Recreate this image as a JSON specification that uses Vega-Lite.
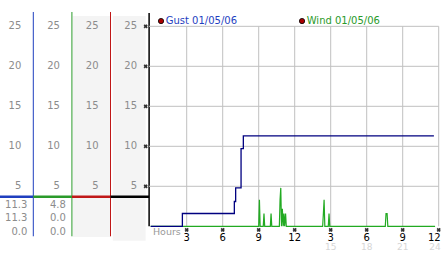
{
  "$schema": "https://vega.github.io/schema/vega-lite/v6.json",
  "width": 442,
  "height": 253,
  "autosize": {"type": "none"},
  "padding": 0,
  "background": "white",
  "config": {"view": {"stroke": null}, "text": {"font": "DejaVu Sans", "fontSize": 10}},
  "datasets": {
    "gust": [
      {"hour": 0, "speed": 0}, {"hour": 2.64, "speed": 1.6}, {"hour": 6.97, "speed": 3.1},
      {"hour": 7.08, "speed": 4.8}, {"hour": 7.53, "speed": 9.7}, {"hour": 7.72, "speed": 11.3},
      {"hour": 23.6, "speed": 11.3}
    ],
    "wind": [
      {"hour": 0, "speed": 0}, {"hour": 9.0, "speed": 0}, {"hour": 9.06, "speed": 3.3}, {"hour": 9.12, "speed": 0},
      {"hour": 9.38, "speed": 0}, {"hour": 9.44, "speed": 1.6}, {"hour": 9.5, "speed": 0},
      {"hour": 9.97, "speed": 0}, {"hour": 10.03, "speed": 1.6}, {"hour": 10.09, "speed": 0},
      {"hour": 10.72, "speed": 0}, {"hour": 10.78, "speed": 3.3}, {"hour": 10.84, "speed": 4.8}, {"hour": 10.9, "speed": 0},
      {"hour": 10.97, "speed": 2.2}, {"hour": 11.04, "speed": 0}, {"hour": 11.1, "speed": 1.6}, {"hour": 11.16, "speed": 0},
      {"hour": 11.24, "speed": 1.6}, {"hour": 11.3, "speed": 0},
      {"hour": 14.33, "speed": 0}, {"hour": 14.39, "speed": 1.6}, {"hour": 14.45, "speed": 3.3}, {"hour": 14.51, "speed": 0},
      {"hour": 14.8, "speed": 0}, {"hour": 14.86, "speed": 1.6}, {"hour": 14.92, "speed": 0},
      {"hour": 19.55, "speed": 0}, {"hour": 19.61, "speed": 1.6}, {"hour": 19.7, "speed": 1.6}, {"hour": 19.76, "speed": 0},
      {"hour": 23.7, "speed": 0}
    ],
    "axes": [
      {"axis": 1, "prev": 0, "series": "Gust"},
      {"axis": 2, "prev": 1, "series": "Wind"},
      {"axis": 3, "prev": 2, "series": "Series 3"},
      {"axis": 4, "prev": 3, "series": "Series 4"}
    ],
    "axisLabels": [
      {"axis": 1, "value": 5}, {"axis": 1, "value": 10}, {"axis": 1, "value": 15}, {"axis": 1, "value": 20}, {"axis": 1, "value": 25},
      {"axis": 2, "value": 5}, {"axis": 2, "value": 10}, {"axis": 2, "value": 15}, {"axis": 2, "value": 20}, {"axis": 2, "value": 25},
      {"axis": 3, "value": 5}, {"axis": 3, "value": 10}, {"axis": 3, "value": 15}, {"axis": 3, "value": 20}, {"axis": 3, "value": 25},
      {"axis": 4, "value": 5}, {"axis": 4, "value": 10}, {"axis": 4, "value": 15}, {"axis": 4, "value": 20}, {"axis": 4, "value": 25}
    ],
    "stats": [
      {"series": "Gust", "axis": 1, "stat": "max", "value": 11.3},
      {"series": "Gust", "axis": 1, "stat": "current", "value": 11.3},
      {"series": "Gust", "axis": 1, "stat": "min", "value": 0},
      {"series": "Wind", "axis": 2, "stat": "max", "value": 4.8},
      {"series": "Wind", "axis": 2, "stat": "current", "value": 0},
      {"series": "Wind", "axis": 2, "stat": "min", "value": 0}
    ],
    "yTicks": [{"value": 5}, {"value": 10}, {"value": 15}, {"value": 20}, {"value": 25}],
    "xTicks": [
      {"hour": 3, "clock": "3"}, {"hour": 6, "clock": "6"}, {"hour": 9, "clock": "9"}, {"hour": 12, "clock": "12"},
      {"hour": 15, "clock": "3"}, {"hour": 18, "clock": "6"}, {"hour": 21, "clock": "9"}, {"hour": 24, "clock": "12"}
    ],
    "legend": [
      {"series": "Gust", "label": "Gust 01/05/06"},
      {"series": "Wind", "label": "Wind 01/05/06"}
    ]
  },
  "resolve": {"scale": {"x": "independent"}},
  "layer": [
    {
      "layer": [
        {
          "data": {"values": [{}]},
          "mark": {"type": "rect", "color": "#f4f4f4"},
          "encoding": {
            "x": {"datum": 2.02, "type": "quantitative", "scale": {"domain": [0.137, 11.588], "nice": false, "zero": false}, "axis": null},
            "x2": {"datum": 3.0},
            "y": {"datum": 26.29, "type": "quantitative", "scale": {"domain": [-3.34, 28.29], "nice": false, "zero": false}, "axis": null},
            "y2": {"datum": -1.34}
          }
        },
        {
          "data": {"values": [{}]},
          "mark": {"type": "rect", "color": "#f4f4f4"},
          "encoding": {
            "x": {"datum": 3.06, "type": "quantitative", "scale": {"domain": [0.137, 11.588], "nice": false, "zero": false}, "axis": null},
            "x2": {"datum": 3.91},
            "y": {"datum": 26.29, "type": "quantitative", "scale": {"domain": [-3.34, 28.29], "nice": false, "zero": false}, "axis": null},
            "y2": {"datum": -1.8}
          }
        },
        {
          "data": {"name": "axes"},
          "transform": [{"filter": "datum.axis < 4"}],
          "mark": {"type": "rule", "strokeWidth": 1},
          "encoding": {
            "x": {"field": "axis", "type": "quantitative", "scale": {"domain": [0.137, 11.588], "nice": false, "zero": false}, "axis": null},
            "y": {"datum": 26.79, "type": "quantitative", "scale": {"domain": [-3.34, 28.29], "nice": false, "zero": false}, "axis": null},
            "y2": {"datum": -1.25},
            "color": {"field": "series", "type": "nominal", "legend": null,
              "scale": {"domain": ["Gust", "Wind", "Series 3", "Series 4"], "range": ["#1f3fbf", "#2a9a2a", "#c01818", "#000000"]}}
          }
        },
        {
          "data": {"values": [{}]},
          "mark": {"type": "rule", "strokeWidth": 1.5, "color": "#000000"},
          "encoding": {
            "x": {"datum": 4, "type": "quantitative", "scale": {"domain": [0.137, 11.588], "nice": false, "zero": false}, "axis": null},
            "y": {"datum": 26.66, "type": "quantitative", "scale": {"domain": [-3.34, 28.29], "nice": false, "zero": false}, "axis": null},
            "y2": {"datum": 0}
          }
        },
        {
          "data": {"name": "axes"},
          "mark": {"type": "rule", "strokeWidth": 2.5},
          "encoding": {
            "x": {"field": "prev", "type": "quantitative", "scale": {"domain": [0.137, 11.588], "nice": false, "zero": false}, "axis": null},
            "x2": {"field": "axis"},
            "y": {"datum": 3.7, "type": "quantitative", "scale": {"domain": [-3.34, 28.29], "nice": false, "zero": false}, "axis": null},
            "color": {"field": "series", "type": "nominal", "legend": null,
              "scale": {"domain": ["Gust", "Wind", "Series 3", "Series 4"], "range": ["#1f3fbf", "#2a9a2a", "#c01818", "#000000"]}}
          }
        },
        {
          "data": {"name": "axisLabels"},
          "mark": {"type": "text", "align": "right", "baseline": "middle", "dx": -12, "color": "#8c8c8c"},
          "encoding": {
            "x": {"field": "axis", "type": "quantitative", "scale": {"domain": [0.137, 11.588], "nice": false, "zero": false}, "axis": null},
            "y": {"field": "value", "type": "quantitative", "scale": {"domain": [-3.34, 28.29], "nice": false, "zero": false}, "axis": null},
            "text": {"field": "value", "type": "quantitative"}
          }
        },
        {
          "data": {"name": "stats"},
          "transform": [{"filter": "datum.stat == 'max'"}],
          "mark": {"type": "text", "align": "right", "baseline": "middle", "dx": -6, "color": "#8c8c8c"},
          "encoding": {
            "x": {"field": "axis", "type": "quantitative", "scale": {"domain": [0.137, 11.588], "nice": false, "zero": false}, "axis": null},
            "y": {"datum": 2.72, "type": "quantitative", "scale": {"domain": [-3.34, 28.29], "nice": false, "zero": false}, "axis": null},
            "text": {"field": "value", "type": "quantitative", "format": ".1f"}
          }
        },
        {
          "data": {"name": "stats"},
          "transform": [{"filter": "datum.stat == 'current'"}],
          "mark": {"type": "text", "align": "right", "baseline": "middle", "dx": -6, "color": "#8c8c8c"},
          "encoding": {
            "x": {"field": "axis", "type": "quantitative", "scale": {"domain": [0.137, 11.588], "nice": false, "zero": false}, "axis": null},
            "y": {"datum": 1.0, "type": "quantitative", "scale": {"domain": [-3.34, 28.29], "nice": false, "zero": false}, "axis": null},
            "text": {"field": "value", "type": "quantitative", "format": ".1f"}
          }
        },
        {
          "data": {"name": "stats"},
          "transform": [{"filter": "datum.stat == 'min'"}],
          "mark": {"type": "text", "align": "right", "baseline": "middle", "dx": -6, "color": "#8c8c8c"},
          "encoding": {
            "x": {"field": "axis", "type": "quantitative", "scale": {"domain": [0.137, 11.588], "nice": false, "zero": false}, "axis": null},
            "y": {"datum": -0.71, "type": "quantitative", "scale": {"domain": [-3.34, 28.29], "nice": false, "zero": false}, "axis": null},
            "text": {"field": "value", "type": "quantitative", "format": ".1f"}
          }
        }
      ]
    },
    {
      "layer": [
        {
          "data": {"name": "yTicks"},
          "mark": {"type": "rule", "color": "#c0c0c0", "strokeWidth": 1},
          "encoding": {
            "x": {"datum": -0.14, "type": "quantitative", "scale": {"domain": [-12.558, 24.275], "nice": false, "zero": false}, "axis": null},
            "x2": {"datum": 24},
            "y": {"field": "value", "type": "quantitative", "scale": {"domain": [-3.34, 28.29], "nice": false, "zero": false}, "axis": null}
          }
        },
        {
          "data": {"name": "xTicks"},
          "mark": {"type": "rule", "color": "#c0c0c0", "strokeWidth": 1},
          "encoding": {
            "x": {"field": "hour", "type": "quantitative", "scale": {"domain": [-12.558, 24.275], "nice": false, "zero": false}, "axis": null},
            "y": {"datum": 0, "type": "quantitative", "scale": {"domain": [-3.34, 28.29], "nice": false, "zero": false}, "axis": null},
            "y2": {"datum": 25}
          }
        },
        {
          "data": {"name": "yTicks"},
          "mark": {"type": "point", "shape": "cross", "angle": 45, "filled": true, "size": 18, "color": "#333333", "opacity": 1},
          "encoding": {
            "x": {"datum": -0.42, "type": "quantitative", "scale": {"domain": [-12.558, 24.275], "nice": false, "zero": false}, "axis": null},
            "y": {"field": "value", "type": "quantitative", "scale": {"domain": [-3.34, 28.29], "nice": false, "zero": false}, "axis": null}
          }
        },
        {
          "data": {"name": "xTicks"},
          "mark": {"type": "point", "shape": "cross", "angle": 45, "filled": true, "size": 18, "color": "#333333", "opacity": 1},
          "encoding": {
            "x": {"field": "hour", "type": "quantitative", "scale": {"domain": [-12.558, 24.275], "nice": false, "zero": false}, "axis": null},
            "y": {"datum": -0.46, "type": "quantitative", "scale": {"domain": [-3.34, 28.29], "nice": false, "zero": false}, "axis": null}
          }
        },
        {
          "data": {"name": "xTicks"},
          "transform": [{"filter": "datum.hour < 24"}],
          "mark": {"type": "text", "align": "center", "baseline": "middle", "color": "#000000", "fontSize": 10},
          "encoding": {
            "x": {"field": "hour", "type": "quantitative", "scale": {"domain": [-12.558, 24.275], "nice": false, "zero": false}, "axis": null},
            "y": {"datum": -1.5, "type": "quantitative", "scale": {"domain": [-3.34, 28.29], "nice": false, "zero": false}, "axis": null},
            "text": {"field": "clock"}
          }
        },
        {
          "data": {"name": "xTicks"},
          "transform": [{"filter": "datum.hour == 24"}],
          "mark": {"type": "text", "align": "right", "baseline": "middle", "dx": 2, "color": "#000000", "fontSize": 10},
          "encoding": {
            "x": {"field": "hour", "type": "quantitative", "scale": {"domain": [-12.558, 24.275], "nice": false, "zero": false}, "axis": null},
            "y": {"datum": -1.5, "type": "quantitative", "scale": {"domain": [-3.34, 28.29], "nice": false, "zero": false}, "axis": null},
            "text": {"field": "clock"}
          }
        },
        {
          "data": {"name": "xTicks"},
          "transform": [{"filter": "datum.hour > 12 && datum.hour < 24"}],
          "mark": {"type": "text", "align": "center", "baseline": "middle", "color": "#d6d6d6", "fontSize": 9},
          "encoding": {
            "x": {"field": "hour", "type": "quantitative", "scale": {"domain": [-12.558, 24.275], "nice": false, "zero": false}, "axis": null},
            "y": {"datum": -2.65, "type": "quantitative", "scale": {"domain": [-3.34, 28.29], "nice": false, "zero": false}, "axis": null},
            "text": {"field": "hour", "type": "quantitative"}
          }
        },
        {
          "data": {"name": "xTicks"},
          "transform": [{"filter": "datum.hour == 24"}],
          "mark": {"type": "text", "align": "right", "baseline": "middle", "dx": 2, "color": "#d6d6d6", "fontSize": 9},
          "encoding": {
            "x": {"field": "hour", "type": "quantitative", "scale": {"domain": [-12.558, 24.275], "nice": false, "zero": false}, "axis": null},
            "y": {"datum": -2.65, "type": "quantitative", "scale": {"domain": [-3.34, 28.29], "nice": false, "zero": false}, "axis": null},
            "text": {"field": "hour", "type": "quantitative"}
          }
        },
        {
          "data": {"values": [{"title": "Hours"}]},
          "mark": {"type": "text", "align": "left", "baseline": "middle", "color": "#999999", "fontSize": 9.5},
          "encoding": {
            "x": {"datum": 0.19, "type": "quantitative", "scale": {"domain": [-12.558, 24.275], "nice": false, "zero": false}, "axis": null},
            "y": {"datum": -0.675, "type": "quantitative", "scale": {"domain": [-3.34, 28.29], "nice": false, "zero": false}, "axis": null},
            "text": {"field": "title"}
          }
        },
        {
          "data": {"name": "wind"},
          "mark": {"type": "line", "color": "#22aa22", "strokeWidth": 1.2},
          "encoding": {
            "x": {"field": "hour", "type": "quantitative", "scale": {"domain": [-12.558, 24.275], "nice": false, "zero": false}, "axis": null},
            "y": {"field": "speed", "type": "quantitative", "scale": {"domain": [-3.34, 28.29], "nice": false, "zero": false}, "axis": null}
          }
        },
        {
          "data": {"name": "gust"},
          "mark": {"type": "line", "color": "#000080", "strokeWidth": 1.3, "interpolate": "step-after"},
          "encoding": {
            "x": {"field": "hour", "type": "quantitative", "scale": {"domain": [-12.558, 24.275], "nice": false, "zero": false}, "axis": null},
            "y": {"field": "speed", "type": "quantitative", "scale": {"domain": [-3.34, 28.29], "nice": false, "zero": false}, "axis": null}
          }
        },
        {
          "data": {"name": "legend"},
          "transform": [{"filter": "datum.series == 'Gust'"}],
          "mark": {"type": "point", "shape": "circle", "filled": true, "size": 28, "color": "#aa0000", "stroke": "#000000", "strokeWidth": 0.8, "opacity": 1},
          "encoding": {
            "x": {"datum": 0.86, "type": "quantitative", "scale": {"domain": [-12.558, 24.275], "nice": false, "zero": false}, "axis": null},
            "y": {"datum": 25.66, "type": "quantitative", "scale": {"domain": [-3.34, 28.29], "nice": false, "zero": false}, "axis": null}
          }
        },
        {
          "data": {"name": "legend"},
          "transform": [{"filter": "datum.series == 'Wind'"}],
          "mark": {"type": "point", "shape": "circle", "filled": true, "size": 28, "color": "#aa0000", "stroke": "#000000", "strokeWidth": 0.8, "opacity": 1},
          "encoding": {
            "x": {"datum": 12.61, "type": "quantitative", "scale": {"domain": [-12.558, 24.275], "nice": false, "zero": false}, "axis": null},
            "y": {"datum": 25.66, "type": "quantitative", "scale": {"domain": [-3.34, 28.29], "nice": false, "zero": false}, "axis": null}
          }
        },
        {
          "data": {"name": "legend"},
          "transform": [{"filter": "datum.series == 'Gust'"}],
          "mark": {"type": "text", "align": "left", "baseline": "middle", "fontSize": 10},
          "encoding": {
            "x": {"datum": 1.25, "type": "quantitative", "scale": {"domain": [-12.558, 24.275], "nice": false, "zero": false}, "axis": null},
            "y": {"datum": 25.66, "type": "quantitative", "scale": {"domain": [-3.34, 28.29], "nice": false, "zero": false}, "axis": null},
            "text": {"field": "label"},
            "color": {"field": "series", "type": "nominal", "legend": null,
              "scale": {"domain": ["Gust", "Wind", "Series 3", "Series 4"], "range": ["#1f3fbf", "#2a9a2a", "#c01818", "#000000"]}}
          }
        },
        {
          "data": {"name": "legend"},
          "transform": [{"filter": "datum.series == 'Wind'"}],
          "mark": {"type": "text", "align": "left", "baseline": "middle", "fontSize": 10},
          "encoding": {
            "x": {"datum": 13.0, "type": "quantitative", "scale": {"domain": [-12.558, 24.275], "nice": false, "zero": false}, "axis": null},
            "y": {"datum": 25.66, "type": "quantitative", "scale": {"domain": [-3.34, 28.29], "nice": false, "zero": false}, "axis": null},
            "text": {"field": "label"},
            "color": {"field": "series", "type": "nominal", "legend": null,
              "scale": {"domain": ["Gust", "Wind", "Series 3", "Series 4"], "range": ["#1f3fbf", "#2a9a2a", "#c01818", "#000000"]}}
          }
        }
      ]
    }
  ]
}
